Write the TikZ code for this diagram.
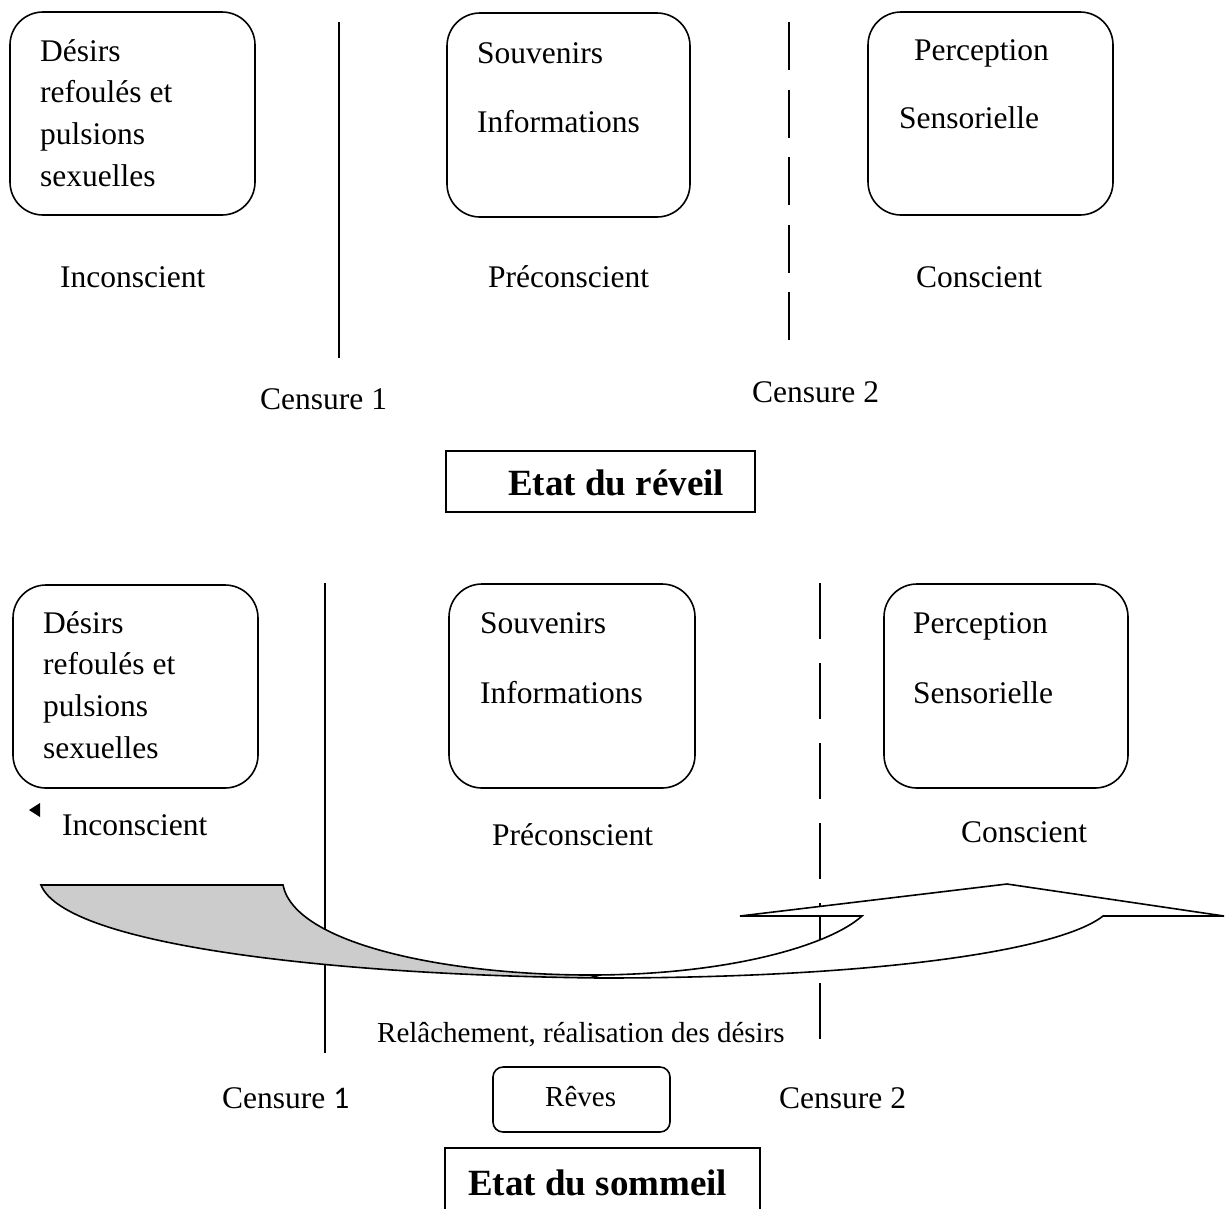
\documentclass[tikz,border=0pt]{standalone}
\usepackage{fontspec}
\setmainfont{Liberation Serif}
\newfontfamily\calfont{Carlito}
\usetikzlibrary{positioning}

\begin{document}
\begin{tikzpicture}[
    x=1pt, y=-1pt,
    every node/.style={inner sep=0pt, anchor=base west},
    zone/.style={rectangle, draw, line width=1.6pt, rounded corners=33pt, anchor=center},
    small/.style={rectangle, draw, line width=1.6pt, rounded corners=10pt, anchor=center},
    frame/.style={rectangle, draw, line width=1.6pt, anchor=center},
    txt/.style={font=\fontsize{31.5}{38}\selectfont},
    note/.style={font=\fontsize{29}{35}\selectfont},
    tiny/.style={font=\fontsize{29}{34}\selectfont},
    title/.style={font=\fontsize{37}{44}\selectfont\bfseries},
    border/.style={line width=1.6pt},
    gapline/.style={line width=1.6pt, dash pattern=on 48pt off 19.5pt},
    gaplinelow/.style={line width=1.6pt, dash pattern=on 56pt off 24pt}
  ]
  \useasboundingbox (0,0) rectangle (1225,1208);

  % Etat du reveil
  \node[zone, minimum width=245pt, minimum height=203pt] (inc1) at (132.5,113.5) {};
  \node[zone, minimum width=243pt, minimum height=204pt] (pre1) at (568.5,115) {};
  \node[zone, minimum width=245pt, minimum height=203pt] (con1) at (990.5,113.5) {};

  \foreach \line [count=\i] in {Désirs, refoulés et, pulsions, sexuelles}
    \node[txt] (inc1-\i) at (40, {61+41.7*(\i-1)}) {\line};
  \node[txt] (pre1-a) at (477,63) {Souvenirs};
  \node[txt] (pre1-b) at (477,132) {Informations};
  \node[txt] (con1-a) at (914,60) {Perception};
  \node[txt] (con1-b) at (899,128) {Sensorielle};

  \node[txt] (lbl-inc1) at (60,287) {Inconscient};
  \node[txt] (lbl-pre1) at (488,287) {Préconscient};
  \node[txt] (lbl-con1) at (916,287) {Conscient};

  \coordinate (cens1-top) at (339,22);
  \coordinate (cens1-bot) at (339,358);
  \coordinate (cens2-top) at (789,22);
  \coordinate (cens2-bot) at (789,358);
  \draw[border] (cens1-top) -- (cens1-bot);
  \draw[gapline] (cens2-top) -- (cens2-bot);

  \node[txt] (cens1) at (260,409) {Censure 1};
  \node[txt] (cens2) at (752,402) {Censure 2};

  \node[frame, minimum width=309pt, minimum height=61pt] (reveil) at (600.5,481.5) {};
  \node[title] (reveil-t) at (508,495) {Etat du réveil};

  % Etat du sommeil
  \node[zone, minimum width=245pt, minimum height=203pt] (inc2) at (135.5,686.5) {};
  \node[zone, minimum width=246pt, minimum height=204pt] (pre2) at (572,686) {};
  \node[zone, minimum width=244pt, minimum height=204pt] (con2) at (1006,686) {};

  \foreach \line [count=\i] in {Désirs, refoulés et, pulsions, sexuelles}
    \node[txt] (inc2-\i) at (43, {633+41.7*(\i-1)}) {\line};
  \node[txt] (pre2-a) at (480,633) {Souvenirs};
  \node[txt] (pre2-b) at (480,703) {Informations};
  \node[txt] (con2-a) at (913,633) {Perception};
  \node[txt] (con2-b) at (913,703) {Sensorielle};

  \fill (29,810) -- (40,803) -- (40,817) -- cycle;
  \node[txt] (lbl-inc2) at (62,835) {Inconscient};
  \node[txt] (lbl-pre2) at (492,845) {Préconscient};
  \node[txt] (lbl-con2) at (961,842) {Conscient};

  \coordinate (cens3-top) at (325,583);
  \coordinate (cens3-bot) at (325,1053);
  \coordinate (cens4-top) at (820,583);
  \coordinate (cens4-bot) at (820,1050);
  \draw[border] (cens3-top) -- (cens3-bot);
  \draw[gaplinelow] (cens4-top) -- (cens4-bot);

  % curved arrow
  \draw[border, fill=gray!40] (41,885) -- (283,885)
    .. controls (295,945) and (450,975) .. (590,975) -- (600,978)
    .. controls (330,975) and (65,945) .. (41,885) -- cycle;
  \draw[border, fill=white] (590,975)
    .. controls (730,975) and (830,945) .. (862,916)
    -- (740,916) -- (1007,884) -- (1224,916) -- (1103,916)
    .. controls (1060,950) and (880,978) .. (600,978) -- cycle;

  \node[note] (relache) at (377,1042) {Relâchement, réalisation des désirs};

  \node[small, minimum width=177pt, minimum height=65pt] (reves) at (581.5,1099.5) {};
  \node[tiny] (reves-t) at (545,1106) {Rêves};

  \node[txt] (cens3) at (222,1108) {Censure {\calfont 1}};
  \node[txt] (cens4) at (779,1108) {Censure 2};

  \node[frame, minimum width=315pt, minimum height=90pt] (sommeil) at (602.5,1193) {};
  \node[title] (sommeil-t) at (468,1195) {Etat du sommeil};
\end{tikzpicture}
\end{document}
